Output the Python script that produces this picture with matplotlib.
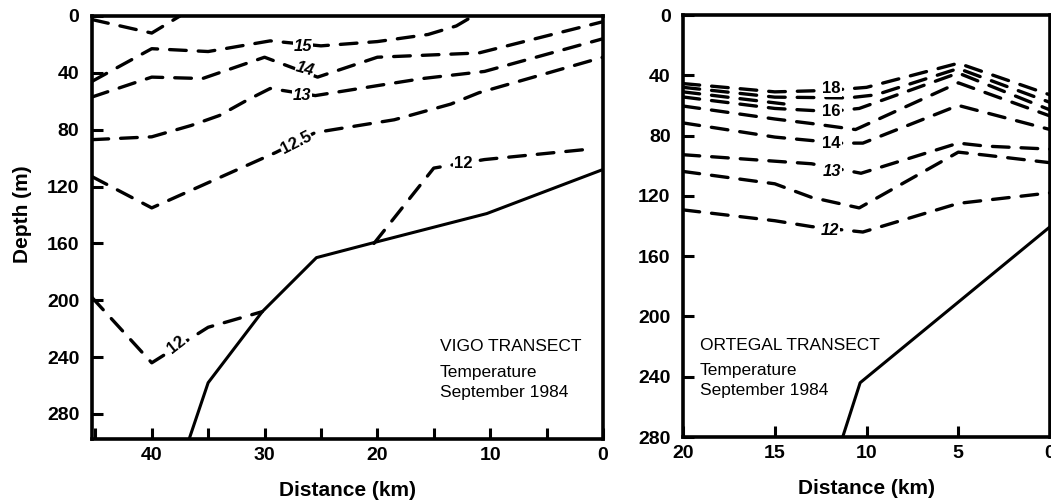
import matplotlib.pyplot as plt
from matplotlib.ticker import MultipleLocator

plt.rcParams['font.family'] = ['Liberation Sans', 'DejaVu Sans']

# ---- VIGO transect: distance (km) / depth (m) of each isotherm ----
vigo_16_km = [45.3, 40, 37.5]
vigo_16_depth = [2.5, 12, 0]
vigo_15_km = [45.3, 40, 35, 29.5, 25, 20, 15.5, 13, 11.5]
vigo_15_depth = [46, 23, 25, 17.5, 21, 18, 13, 7, 0]
vigo_14_km = [45.3, 40, 35.5, 30, 25.3, 20, 11, 0]
vigo_14_depth = [57, 43, 44, 29, 43, 29, 26, 4]
vigo_13_km = [45.3, 40, 36.5, 34, 31.5, 29.5, 25.5, 20, 16, 10.5, 0]
vigo_13_depth = [87, 85, 77, 70, 59, 51, 56, 49, 44, 39, 16]
vigo_125_km = [45.3, 40, 29, 25.5, 18.5, 13.5, 11, 0]
vigo_125_depth = [113, 135, 96, 82, 73, 62, 54, 29]
vigo_12a_km = [20.3, 15, 10.5, 1]
vigo_12a_depth = [160, 107, 101, 93.5]
vigo_12b_km = [45.3, 40, 35, 30.2]
vigo_12b_depth = [198, 244, 219, 208]
vigo_bottom_km = [36.7, 35, 30.2, 25.4, 20.1, 10.3, 0]
vigo_bottom_depth = [298, 258, 208, 170, 159, 139, 108]

# ---- ORTEGAL transect ----
ort_18_km = [20, 15, 12, 10, 5, 0]
ort_18_depth = [45.5, 51, 50, 48, 32, 53]
ort_17_km = [20, 15, 11, 9.5, 5, 0]
ort_17_depth = [48, 54.5, 55, 53, 35.5, 58]
ort_x_km = [20, 14.5]
ort_x_depth = [51, 59]
ort_16_km = [20, 15, 12, 10.4, 5, 0]
ort_16_depth = [54.4, 62, 64, 62, 38.5, 63]
ort_15_km = [20, 15, 13, 10.6, 5, 0]
ort_15_depth = [60.4, 69, 72, 76, 45, 67]
ort_14_km = [20, 15, 11.5, 10.2, 5, 0]
ort_14_depth = [71.6, 81, 85, 85, 60, 76]
ort_13_km = [20, 15, 13, 10.3, 5, 3.5, 0]
ort_13_depth = [92.7, 97, 98.7, 105, 85, 87, 89]
ort_125_km = [20, 15, 13, 10.4, 5, 3.5, 0]
ort_125_depth = [103.8, 112, 121, 128, 91, 93, 98]
ort_12_km = [20, 15, 13, 10.2, 5, 0]
ort_12_depth = [129.3, 136.5, 140.4, 144, 125, 118]
ort_bottom_km = [11.3, 10.35, 0]
ort_bottom_depth = [280, 244, 140.5]

# contour labels: text, km, depth, rotation, italic
vigo_labels = [("15", 26.6, 21.5, 0, True), ("14", 26.4, 37.5, -15, True),
               ("13", 26.7, 55.6, 0, True), ("12.5", 27.2, 89, 27, False),
               ("12", 12.4, 103.5, 0, False), ("12", 37.8, 231, 38, False)]
ort_labels = [("18", 11.9, 49, 0, False), ("16", 11.9, 64, 0, False),
              ("14", 11.9, 85, 0, False), ("13", 11.9, 104, 0, True),
              ("12", 12.0, 143, 0, True)]

fig = plt.figure(figsize=(10.51, 5.0), dpi=100)
ax1 = fig.add_axes([0.0875, 0.122, 0.4862, 0.846])
ax2 = fig.add_axes([0.6499, 0.126, 0.3492, 0.844])

dash = (0, (5, 3.6))
dlw = 2.4

for km, d in [(vigo_16_km, vigo_16_depth), (vigo_15_km, vigo_15_depth),
              (vigo_14_km, vigo_14_depth), (vigo_13_km, vigo_13_depth),
              (vigo_125_km, vigo_125_depth), (vigo_12a_km, vigo_12a_depth),
              (vigo_12b_km, vigo_12b_depth)]:
    ax1.plot(km, d, color='black', lw=dlw, linestyle=dash, dash_capstyle='round')
ax1.plot(vigo_bottom_km, vigo_bottom_depth, color='black', lw=2.2)

for km, d in [(ort_18_km, ort_18_depth), (ort_17_km, ort_17_depth),
              (ort_x_km, ort_x_depth), (ort_16_km, ort_16_depth),
              (ort_15_km, ort_15_depth), (ort_14_km, ort_14_depth),
              (ort_13_km, ort_13_depth), (ort_125_km, ort_125_depth),
              (ort_12_km, ort_12_depth)]:
    ax2.plot(km, d, color='black', lw=dlw, linestyle=dash, dash_capstyle='round')
ax2.plot(ort_bottom_km, ort_bottom_depth, color='black', lw=2.2)

for ax, labels in [(ax1, vigo_labels), (ax2, ort_labels)]:
    for txt, km, d, rot, it in labels:
        ax.text(km, d, txt, fontsize=12, fontweight='bold',
                fontstyle='italic' if it else 'normal', rotation=rot,
                ha='center', va='center', zorder=5,
                bbox=dict(facecolor='white', edgecolor='none', pad=0.5))

ax1.set_xlim(45.3, 0)
ax1.set_ylim(297.6, 0)
ax1.set_xticks([40, 30, 20, 10, 0])
ax1.xaxis.set_minor_locator(MultipleLocator(5))
ax1.set_yticks(range(0, 281, 40))

ax2.set_xlim(20, 0)
ax2.set_ylim(280, 0)
ax2.set_xticks([20, 15, 10, 5, 0])
ax2.set_yticks(range(0, 281, 40))

for ax in (ax1, ax2):
    for s in ax.spines.values():
        s.set_linewidth(2.6)
    ax.tick_params(which='both', direction='in', length=8, width=2.2,
                   labelsize=14, top=False, right=False)
    ax.tick_params(axis='y', pad=9)
    ax.tick_params(axis='x', pad=6)
    for lab in ax.get_xticklabels() + ax.get_yticklabels():
        lab.set_fontweight('bold')
    ax.set_xlabel('Distance (km)', fontsize=15, fontweight='bold', labelpad=12)

fig.text(0.021, 1 - 214 / 500, 'Depth (m)', rotation=90, fontsize=15,
         fontweight='bold', ha='center', va='center')

for ax, x, name in [(ax1, 0.681, 'VIGO TRANSECT'), (ax2, 0.046, 'ORTEGAL TRANSECT')]:
    ax.text(x, 0.218, name, transform=ax.transAxes, fontsize=12.5, va='center')
    ax.text(x, 0.158, 'Temperature', transform=ax.transAxes, fontsize=12.5, va='center')
    ax.text(x, 0.110, 'September 1984', transform=ax.transAxes, fontsize=12.5, va='center')

fig.savefig('out.png', dpi=100)
